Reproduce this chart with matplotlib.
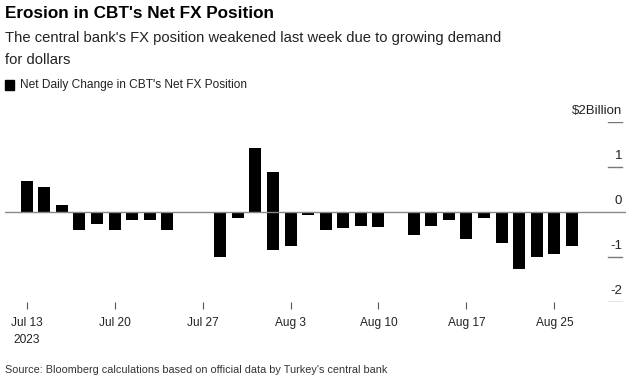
import matplotlib
matplotlib.use("Agg")
import matplotlib.pyplot as plt
from matplotlib.patches import Rectangle

plt.rcParams["font.family"] = ["Liberation Sans", "DejaVu Sans"]

# Net daily change in CBT's net FX position, $ billion (business days)
dates = ["Jul 13", "Jul 14", "Jul 17", "Jul 18", "Jul 19", "Jul 20", "Jul 21",
         "Jul 24", "Jul 25", "Jul 26", "Jul 27", "Jul 28", "Jul 31", "Aug 1",
         "Aug 2", "Aug 3", "Aug 4", "Aug 7", "Aug 8", "Aug 9", "Aug 10",
         "Aug 11", "Aug 14", "Aug 15", "Aug 16", "Aug 17", "Aug 21", "Aug 22",
         "Aug 23", "Aug 24", "Aug 25", "Aug 28"]
values = [0.70, 0.55, 0.16, -0.41, -0.27, -0.41, -0.18, -0.18, -0.39, -0.01,
          -0.01, -0.99, -0.13, 1.43, 0.90, -0.76, -0.07, -0.39, -0.35, -0.31,
          -0.33, -0.01, -0.51, -0.30, -0.17, -0.59, -0.14, -0.69, -1.27, -0.99,
          -0.93, -0.75]
# second print on the same day
extra_dates = ["Aug 2"]
extra_values = [-0.84]

tick_dates = ["Jul 13", "Jul 20", "Jul 27", "Aug 3", "Aug 10", "Aug 17", "Aug 25"]
tick_text = ["Jul 13\n2023", "Jul 20", "Jul 27", "Aug 3", "Aug 10", "Aug 17", "Aug 25"]
y_ticks = [2, 1, 0, -1, -2]
y_text = ["$2Billion", "1", "0", "-1", "-2"]

W, H = 632, 381
fig = plt.figure(figsize=(W / 100, H / 100), dpi=100)

ax = fig.add_axes([5 / W, 1 - 302 / H, 621 / W, 180 / H])
x = list(range(len(dates)))
ax.bar(x, values, width=0.68, color="black", zorder=3)
ax.bar([dates.index(d) for d in extra_dates], extra_values, width=0.68,
       color="black", zorder=3)

ax.set_xlim(-1.23, 34.07)
ax.set_ylim(-2, 2)
for s in ax.spines.values():
    s.set_visible(False)
ax.set_yticks([])
ax.set_xticks([dates.index(d) for d in tick_dates])
ax.set_xticklabels(tick_text, fontsize=8.6, color="#222222", linespacing=1.5)
ax.tick_params(axis="x", length=5, width=0.8, color="#555555", pad=6)
ax.axhline(0, color="#888888", linewidth=1.0, zorder=4)

# short gridlines with labels above them on the right
for v, t in zip(y_ticks, y_text):
    if v != 0:
        ax.axhline(v, xmin=0.971, xmax=0.9936, color="#777777", linewidth=1.0)
    ax.text(0.9936, v + 0.12, t, transform=ax.get_yaxis_transform(),
            ha="right", va="bottom", fontsize=9.5, color="#222222")

fig.text(5 / W, 1 - 13 / H, "Erosion in CBT's Net FX Position", fontsize=12.3,
         fontweight="bold", va="center", ha="left", color="black")
fig.text(5 / W, 1 - 38 / H,
         "The central bank's FX position weakened last week due to growing demand",
         fontsize=10.6, va="center", ha="left", color="#222222")
fig.text(5 / W, 1 - 60 / H, "for dollars",
         fontsize=10.6, va="center", ha="left", color="#222222")
fig.patches.append(Rectangle((5 / W, 1 - 90 / H), 9 / W, 10 / H,
                             transform=fig.transFigure, color="black"))
fig.text(20 / W, 1 - 85 / H, "Net Daily Change in CBT's Net FX Position",
         fontsize=8.6, va="center", ha="left", color="#222222")
fig.text(5 / W, 1 - 370 / H,
         "Source: Bloomberg calculations based on official data by Turkey's central bank",
         fontsize=7.8, va="center", ha="left", color="#333333")

fig.savefig("out.png", dpi=100)
